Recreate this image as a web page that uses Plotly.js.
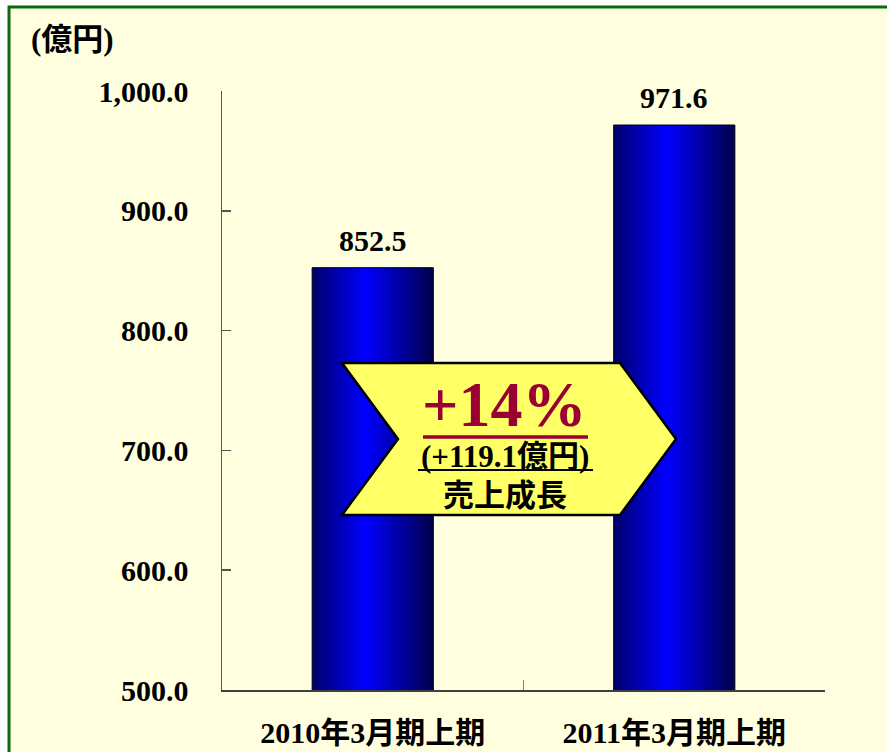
<!DOCTYPE html>
<html>
<head>
<meta charset="utf-8">
<script src="https://cdn.plot.ly/plotly-3.0.1.min.js"></script>
<style>html,body{margin:0;padding:0;background:#fff;}#chart{width:887px;height:752px;}</style>
</head>
<body>
<div id="chart"></div>
<script>
// ---- data ----
const categories = ["2010年3月期上期", "2011年3月期上期"];
const sales = [852.5, 971.6];
const yTickVals = [500, 600, 700, 800, 900, 1000];
const growthPct = "+14%";
const growthAmt = "(+119.1億円)";
const growthLabel = "売上成長";
const unitLabel = "(億円)";

// ---- styling ----
const SERIF = "'Liberation Serif', 'Times New Roman', 'Noto Sans CJK JP', serif";
const SANS = "'Noto Sans CJK JP', 'DejaVu Sans', sans-serif";
const W = 887, H = 752;
const M = {l: 222, r: 62, t: 91, b: 62};
const plotW = W - M.l - M.r, plotH = H - M.t - M.b;
const px2x = p => (p - M.l) / plotW;       // paper x
const py2y = p => (H - M.b - p) / plotH;   // paper y

const barW = 0.402;
const N = 48;
function shade(t) {
  const p = 0.44;
  const s = t < p ? t / p : (1 - t) / (1 - p);
  const edge = t < p ? 105 : 75;
  const b = Math.round(edge + (255 - edge) * Math.pow(s, 1.0));
  return `rgb(0,0,${b})`;
}

const traces = [];
for (let i = 0; i < N; i++) {
  const t = (i + 0.5) / N;
  traces.push({
    type: 'bar', x: categories, y: sales,
    width: barW / N * (i === N - 1 ? 1 : 1.6),
    offset: -barW / 2 + i * barW / N,
    marker: {color: shade(t), line: {width: 0}},
    hoverinfo: 'skip', showlegend: false
  });
}
traces.push({
  type: 'bar', x: categories, y: sales, width: barW, offset: -barW / 2,
  marker: {color: 'rgba(0,0,0,0)', line: {color: '#00001a', width: 1}},
  hoverinfo: 'skip', showlegend: false
});

const annotations = categories.map((c, i) => ({
  x: c, y: sales[i], xref: 'x', yref: 'y', text: sales[i].toFixed(1),
  showarrow: false, yanchor: 'bottom', yshift: 9,
  font: {family: SERIF, size: 30, color: '#000', weight: 'bold'}
}));
annotations.push(
  {xref: 'paper', yref: 'paper', x: px2x(29), y: py2y(40), xanchor: 'left', yanchor: 'middle',
   text: unitLabel, showarrow: false, font: {family: SERIF, size: 31, color: '#000', weight: 'bold'}},
  {xref: 'paper', yref: 'paper', x: px2x(504), y: py2y(404), xanchor: 'center', yanchor: 'middle',
   text: growthPct, showarrow: false, borderpad: 0, font: {family: SERIF, size: 64, color: '#990033', weight: 'bold'}},
  {xref: 'paper', yref: 'paper', x: px2x(505), y: py2y(456), xanchor: 'center', yanchor: 'middle',
   text: growthAmt, showarrow: false, borderpad: 0, font: {family: SERIF, size: 31, color: '#000', weight: 'bold'}},
  {xref: 'paper', yref: 'paper', x: px2x(505), y: py2y(492), xanchor: 'center', yanchor: 'middle',
   text: growthLabel, showarrow: false, borderpad: 0, font: {family: SANS, size: 31, color: '#000', weight: 'bold'}}
);

const chevron = [[342,363],[620,363],[676,439],[620,515],[342,515],[398,439]];
const chevPath = chevron.map((p, i) => (i ? 'L' : 'M') + px2x(p[0]).toFixed(4) + ',' + py2y(p[1]).toFixed(4)).join(' ') + ' Z';

const shapes = [
  {type: 'rect', xref: 'paper', yref: 'paper', layer: 'below',
   x0: px2x(9), x1: px2x(900), y0: py2y(770), y1: py2y(7),
   fillcolor: '#FFFFE0', line: {color: '#0b6b0b', width: 3}},
  {type: 'path', xref: 'paper', yref: 'paper', path: chevPath,
   fillcolor: '#FFFF66', line: {color: '#000', width: 2.5}},
  {type: 'line', xref: 'paper', yref: 'paper', x0: px2x(423), x1: px2x(588), y0: py2y(437), y1: py2y(437),
   line: {color: '#990033', width: 3.5}},
  {type: 'line', xref: 'paper', yref: 'paper', x0: px2x(418), x1: px2x(593), y0: py2y(470), y1: py2y(470),
   line: {color: '#000', width: 2}}
];

const layout = {
  width: W, height: H, margin: M,
  paper_bgcolor: '#ffffff', plot_bgcolor: 'rgba(0,0,0,0)',
  barmode: 'overlay', showlegend: false,
  xaxis: {type: 'category', range: [-0.5, 1.5], showgrid: false, zeroline: false,
    showline: true, linecolor: '#404040', linewidth: 1.5,
    ticks: 'inside', tickson: 'boundaries', ticklen: 10, tickcolor: '#808080', tickwidth: 1.5,
    ticklabelstandoff: 15,
    tickfont: {family: SERIF, size: 30, color: '#000', weight: 'bold'}},
  yaxis: {range: [500, 1000], tickvals: yTickVals, tickformat: ',.1f',
    showgrid: false, zeroline: false, showline: true, linecolor: '#555', linewidth: 1.5,
    ticks: 'inside', ticklen: 9, tickcolor: '#555', tickwidth: 1.5,
    ticklabelstandoff: 26,
    tickfont: {family: SERIF, size: 30, color: '#000', weight: 'bold'}},
  annotations: annotations, shapes: shapes
};

Plotly.newPlot('chart', traces, layout, {staticPlot: true, displayModeBar: false});
</script>
</body>
</html>
